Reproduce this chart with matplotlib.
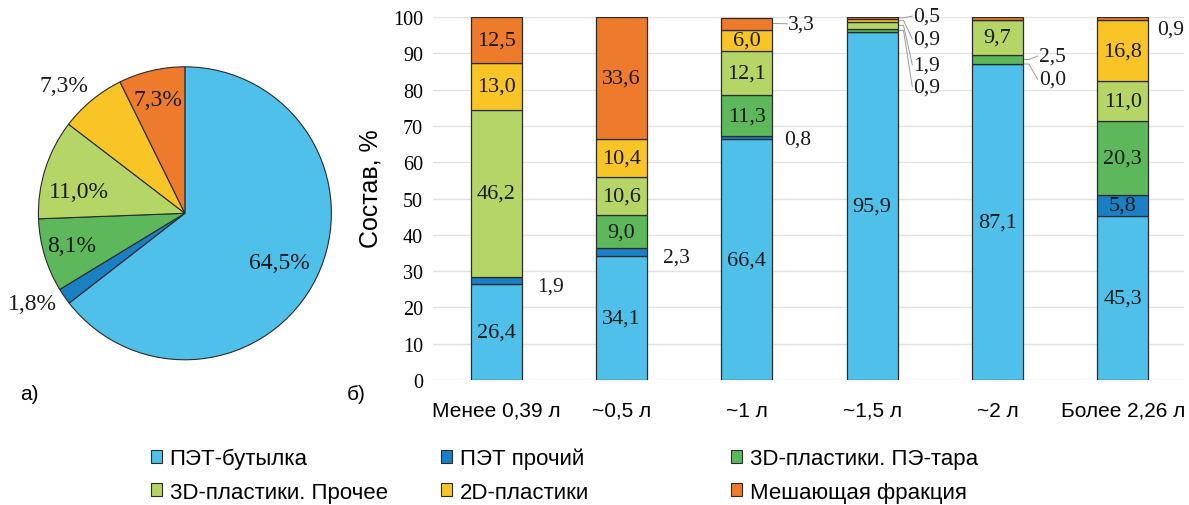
import numpy as np
import matplotlib
matplotlib.use('Agg')
import matplotlib.pyplot as plt
from matplotlib.patches import Patch

# Данные: круговая диаграмма (а)
pie_shares = [64.5, 1.8, 8.1, 11.0, 7.3, 7.3]
pie_labels = ['64,5%', '1,8%', '8,1%', '11,0%', '7,3%', '7,3%']

# Данные: состав по объёму тары (б)
categories = ['Менее 0,39 л', '~0,5 л', '~1 л', '~1,5 л', '~2 л', 'Более 2,26 л']
series_names = ['ПЭТ-бутылка', 'ПЭТ прочий', '3D-пластики. ПЭ-тара',
                '3D-пластики. Прочее', '2D-пластики', 'Мешающая фракция']
pet_bottle = [26.4, 34.1, 66.4, 95.9, 87.1, 45.3]
pet_other = [1.9, 2.3, 0.8, 0.0, 0.0, 5.8]
pe_tara = [0.0, 9.0, 11.3, 0.9, 2.5, 20.3]
plastic_3d_other = [46.2, 10.6, 12.1, 1.9, 9.7, 11.0]
plastic_2d = [13.0, 10.4, 6.0, 0.9, 0.0, 16.8]
interfering = [12.5, 33.6, 3.3, 0.5, 0.7, 0.9]

colors = ['#4fc0ea', '#1b7fc6', '#5cb85a', '#b6d567', '#f9c526', '#ee7a2c']
edge = '#2b2b2b'
serif = 'Liberation Serif'
sans = 'Liberation Sans'

fig = plt.figure(figsize=(11.89, 5.06), dpi=100)

# ---- круговая ----
ax_pie = fig.add_axes([0.032, 0.287, 0.247, 0.579])
wedges, _ = ax_pie.pie(pie_shares, colors=colors, startangle=90, counterclock=False,
                       wedgeprops=dict(edgecolor=edge, linewidth=0.8))
ax_pie.set_aspect('equal')
ax_pie.set_xlim(-1, 1)
ax_pie.set_ylim(-1, 1)
label_r = [0.73, 1.21, 0.80, 0.74, 1.2, 0.80]
label_shift = [-1.5, -4, -1, 6, 4, 0]
for w, txt, r, sh in zip(wedges, pie_labels, label_r, label_shift):
    ang = np.deg2rad((w.theta1 + w.theta2) / 2 + sh)
    ax_pie.text(r * np.cos(ang), r * np.sin(ang), txt, ha='center', va='center',
                fontsize=17, family=serif, color='#1a1a1a', clip_on=False)

# ---- столбчатая ----
ax = fig.add_axes([0.364, 0.247, 0.632, 0.717])
series = [pet_bottle, pet_other, pe_tara, plastic_3d_other, plastic_2d, interfering]
x = np.arange(len(categories))
width = 0.405
bottom = np.zeros(len(categories))
for vals, col in zip(series, colors):
    ax.bar(x, vals, width, bottom=bottom, color=col, edgecolor=edge, linewidth=0.9, zorder=3)
    bottom += np.array(vals)

# подписи внутри сегментов
inside = {  # (серия, категория)
    (0, 0), (3, 0), (4, 0), (5, 0),
    (0, 1), (2, 1), (3, 1), (4, 1), (5, 1),
    (0, 2), (2, 2), (3, 2), (4, 2),
    (0, 3),
    (0, 4), (3, 4),
    (0, 5), (1, 5), (2, 5), (3, 5), (4, 5),
}
cum = np.zeros(len(categories))
mids = []
for vals in series:
    vals = np.array(vals)
    mids.append(cum + vals / 2)
    cum = cum + vals
for (s, c) in inside:
    v = series[s][c]
    ax.text(x[c], mids[s][c], f'{v:.1f}'.replace('.', ','), ha='center', va='center',
            fontsize=16, family=serif, color='#1a1a1a', zorder=4)

# подписи снаружи: (серия, категория, y текста, сдвиг по x, линия-выноска)
outside = [(1, 0, 25.9, 0.33, False), (1, 1, 33.9, 0.33, False), (1, 2, 66.3, 0.3, False),
           (5, 2, 98.2, 0.33, True),
           (5, 3, 100.3, 0.33, True), (4, 3, 94.0, 0.33, True),
           (3, 3, 86.9, 0.33, True), (2, 3, 80.8, 0.33, True),
           (2, 4, 89.3, 0.33, True), (1, 4, 82.9, 0.33, True),
           (5, 5, 96.8, 0.27, False)]
for s, c, ty, dx, line in outside:
    v = series[s][c]
    ax.text(x[c] + dx, ty, f'{v:.1f}'.replace('.', ','), ha='left', va='center',
            fontsize=15.5, family=serif, color='#1a1a1a', zorder=4)
    if line:
        ax.plot([x[c] + width / 2, x[c] + 0.25, x[c] + 0.32],
                [mids[s][c], mids[s][c], ty], color='#9a9a9a', lw=0.7,
                clip_on=False, zorder=2)

ax.set_xlim(-0.506, 5.49)
ax.set_ylim(0, 100)
ax.set_yticks(np.arange(0, 101, 10))
ax.yaxis.grid(True, color='#e3e3e3', lw=1, zorder=0)
ax.set_axisbelow(True)
for sp in ax.spines.values():
    sp.set_visible(False)
ax.tick_params(length=0)
ax.tick_params(axis='y', pad=7)
ax.tick_params(axis='x', pad=15)
ax.set_xticks(x)
ax.set_xticklabels(categories, family=sans, fontsize=15)
for t in ax.get_yticklabels():
    t.set_family(serif)
    t.set_fontsize(14.5)
ax.set_ylabel('Состав, %', family=sans, fontsize=18)
ax.yaxis.set_label_coords(-0.067, 0.53)

fig.text(0.017, 0.22, 'а)', family=sans, fontsize=15, va='center')
fig.text(0.292, 0.22, 'б)', family=sans, fontsize=15, va='center')

# легенда: три колонки фиксированной ширины
handles = [Patch(facecolor=c, edgecolor=edge, lw=0.8) for c in colors]
col_x = [0.110, 0.354, 0.598]
for k, cx in enumerate(col_x):
    idx = [k, k + 3]
    fig.legend([handles[i] for i in idx], [series_names[i] for i in idx],
               ncol=1, loc='lower left', bbox_to_anchor=(cx, -0.035), frameon=False,
               prop={'family': sans, 'size': 16}, handlelength=0.5, handleheight=0.5,
               handletextpad=0.35, labelspacing=0.55)

fig.savefig('out.png', dpi=100)
